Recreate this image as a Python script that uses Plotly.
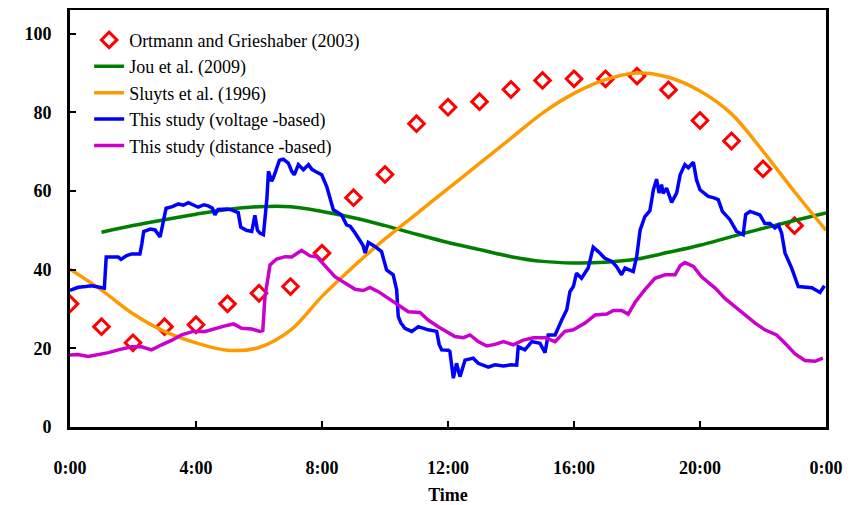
import plotly.graph_objects as go

# ---- data ----
ortmann_hours = list(range(0, 24))
ortmann_vals = [31.3, 25.5, 21.4, 25.5, 26.0, 31.3, 34.0, 35.7, 44.2, 58.3, 64.2, 77.1,
                81.3, 82.7, 85.8, 88.1, 88.5, 88.5, 89.2, 85.7, 77.9, 72.7, 65.6, 51.2]

jou_hours = list(range(1, 25))
jou_vals = [49.5, 51.2, 52.7, 54.1, 55.3, 56.0, 56.0, 54.8, 53.2, 51.2, 49.0, 46.9,
            45.1, 43.3, 42.1, 41.7, 41.9, 42.7, 44.4, 46.2, 48.4, 50.5, 52.5, 54.4]

sluyts_hours = list(range(0, 25))
sluyts_vals = [40.1, 34.8, 28.8, 24.3, 21.4, 19.5, 20.2, 24.6, 33.2, 40.8, 47.8, 54.2,
               60.6, 67.0, 73.4, 79.8, 84.8, 88.3, 90.0, 88.9, 85.4, 79.6, 70.1, 59.8, 50.0]

volt_hours = [0.00, 0.26, 0.50, 0.69, 0.90, 1.05, 1.09, 1.15, 1.53, 1.62, 1.80, 1.96, 2.22, 2.28,
              2.34, 2.55, 2.70, 2.86, 2.97, 3.05, 3.25, 3.44, 3.60, 3.76, 3.95, 4.07, 4.25, 4.39,
              4.52, 4.60, 4.70, 4.81, 5.00, 5.13, 5.34, 5.42, 5.60, 5.77, 5.87, 5.95, 6.03, 6.14,
              6.25, 6.30, 6.40, 6.45, 6.55, 6.65, 6.77, 6.93, 7.04, 7.12, 7.25, 7.41, 7.57, 7.68,
              7.78, 7.90, 7.99, 8.15, 8.25, 8.36, 8.50, 8.62, 8.78, 8.90, 9.05, 9.21, 9.30, 9.37,
              9.47, 9.68, 9.89, 10.05, 10.26, 10.37, 10.42, 10.50, 10.63, 10.85, 11.06, 11.37,
              11.64, 11.72, 11.80, 12.01, 12.06, 12.17, 12.27, 12.38, 12.54, 12.80, 12.96, 13.28,
              13.49, 13.76, 14.00, 14.18, 14.23, 14.44, 14.66, 14.92, 15.08, 15.18, 15.40, 15.61,
              15.77, 15.87, 15.98, 16.08, 16.24, 16.45, 16.61, 16.77, 16.98, 17.20, 17.35, 17.51,
              17.62, 17.88, 17.99, 18.10, 18.25, 18.41, 18.52, 18.62, 18.70, 18.78, 18.83, 18.94,
              19.10, 19.26, 19.37, 19.52, 19.63, 19.79, 19.89, 20.00, 20.26, 20.42, 20.58, 20.71,
              20.95, 21.16, 21.37, 21.45, 21.59, 21.90, 22.06, 22.22, 22.38, 22.49, 22.59, 22.70,
              22.91, 23.12, 23.33, 23.55, 23.81, 23.95]
volt_vals = [34.7, 35.5, 35.7, 35.9, 35.6, 35.5, 35.3, 43.2, 43.2, 42.6, 43.6, 44.0, 44.0, 46.5,
             49.7, 50.3, 50.1, 48.3, 52.5, 55.6, 56.0, 56.7, 56.4, 57.0, 56.3, 55.9, 56.5, 56.2,
             55.6, 53.9, 55.3, 55.4, 55.4, 55.2, 54.5, 50.8, 50.0, 49.7, 53.8, 50.0, 49.3, 48.9,
             58.0, 65.0, 62.5, 63.2, 65.4, 67.8, 68.1, 67.1, 65.0, 64.1, 66.7, 65.4, 66.7, 65.5,
             65.0, 64.6, 64.1, 61.1, 58.0, 55.2, 54.5, 53.9, 51.4, 51.0, 49.3, 47.2, 46.2, 44.2,
             46.9, 45.9, 44.6, 39.9, 38.7, 34.9, 28.1, 26.5, 25.1, 24.3, 25.5, 24.7,
             24.3, 21.0, 19.6, 19.5, 19.2, 12.4, 16.2, 12.8, 17.0, 17.5, 16.2, 15.2,
             15.8, 15.5, 15.8, 15.7, 20.4, 19.6, 21.7, 21.3, 18.9, 23.4, 23.4, 27.2,
             29.8, 34.4, 35.7, 39.1, 37.8, 40.4, 45.7, 44.6, 42.9, 42.1, 40.8, 38.7,
             40.4, 39.5, 43.3, 50.1, 53.5, 55.0, 60.3, 63.0, 59.5, 61.6, 59.4, 60.7,
             57.1, 59.5, 64.1, 66.7, 65.9, 67.3, 62.8, 60.3, 58.6, 58.3, 57.8, 54.8,
             52.7, 49.7, 48.9, 54.0, 54.8, 53.9, 51.7, 51.7, 50.6, 51.3, 49.3, 44.2,
             40.4, 35.7, 35.6, 35.4, 34.2, 35.9]

dist_hours = [0.00, 0.25, 0.58, 0.90, 1.22, 1.53, 1.96, 2.27, 2.59, 2.91, 3.22, 3.54, 3.91, 4.29,
              4.60, 4.92, 5.19, 5.45, 5.77, 6.03, 6.12, 6.19, 6.35, 6.56, 6.83, 7.04, 7.35, 7.62,
              7.83, 8.10, 8.41, 8.73, 9.05, 9.31, 9.52, 9.79, 10.11, 10.42, 10.74, 11.11, 11.37,
              11.69, 11.95, 12.22, 12.49, 12.70, 12.96, 13.23, 13.49, 13.76, 14.07, 14.39, 14.71,
              15.08, 15.40, 15.71, 15.98, 16.35, 16.67, 17.04, 17.25, 17.51, 17.72, 17.94, 18.25,
              18.57, 18.89, 19.21, 19.37, 19.52, 19.79, 20.05, 20.48, 20.79, 21.11, 21.43, 21.75,
              22.06, 22.43, 22.70, 23.02, 23.33, 23.65, 23.90]
dist_vals = [18.3, 18.4, 17.9, 18.3, 18.9, 19.6, 20.4, 20.4, 19.6, 20.9, 22.0, 23.4, 24.3, 24.3,
             25.1, 25.7, 26.2, 25.1, 24.9, 24.3, 24.5, 33.2, 41.2, 42.7, 43.3, 43.2, 44.9, 43.5,
             43.3, 40.8, 38.2, 36.6, 35.0, 34.7, 35.5, 34.4, 32.7, 30.8, 29.3, 29.1, 27.2,
             25.5, 24.3, 23.0, 22.7, 23.4, 21.7, 20.6, 21.0, 21.7, 20.9, 22.1, 22.7,
             22.7, 21.7, 24.3, 24.7, 26.4, 28.5, 28.7, 29.6, 29.6, 28.7, 31.7, 34.9,
             37.8, 38.7, 38.7, 41.0, 41.8, 40.8, 38.2, 35.3, 32.7, 30.6, 28.5, 26.4,
             24.7, 23.4, 21.3, 18.6, 16.9, 16.7, 17.5]

x_tickvals = [0, 4, 8, 12, 16, 20, 24]
x_ticktext = ["0:00", "4:00", "8:00", "12:00", "16:00", "20:00", "0:00"]
y_tickvals = [0, 20, 40, 60, 80, 100]

SERIF = "Liberation Serif"

fig = go.Figure()
fig.add_trace(go.Scatter(x=ortmann_hours, y=ortmann_vals, mode="markers",
                         name="Ortmann and Grieshaber (2003)",
                         marker=dict(symbol="diamond-open", size=12, color="#FF0000",
                                     line=dict(width=3, color="#FF0000"))))
fig.add_trace(go.Scatter(x=jou_hours, y=jou_vals, mode="lines", name="Jou et al. (2009)",
                         line=dict(color="#008000", width=3.5, shape="spline")))
fig.add_trace(go.Scatter(x=sluyts_hours, y=sluyts_vals, mode="lines", name="Sluyts et al. (1996)",
                         line=dict(color="#FF9900", width=3.5, shape="spline")))
fig.add_trace(go.Scatter(x=volt_hours, y=volt_vals, mode="lines",
                         name="This study (voltage -based)",
                         line=dict(color="#0000FF", width=3.5)))
fig.add_trace(go.Scatter(x=dist_hours, y=dist_vals, mode="lines",
                         name="This study (distance -based)",
                         line=dict(color="#CC00CC", width=3.5)))

fig.update_layout(
    width=848, height=497,
    margin=dict(l=62, r=30, t=2, b=78, autoexpand=False),
    paper_bgcolor="white", plot_bgcolor="white",
    font=dict(family=SERIF, color="black"),
    showlegend=True,
    legend=dict(x=0.0253, y=0.972, xanchor="left", yanchor="top",
                bgcolor="rgba(0,0,0,0)", font=dict(family=SERIF, size=18, color="black"),
                tracegroupgap=0),
    xaxis=dict(range=[0, 24], tickvals=x_tickvals, ticktext=x_ticktext,
               ticks="inside", ticklen=6, tickwidth=2, tickcolor="black",
               showline=True, linecolor="black", linewidth=3, mirror=True,
               showgrid=False, zeroline=False, automargin=False,
               tickfont=dict(family=SERIF, size=18, color="black", weight="bold"),
               ticklabelstandoff=22,
               title=dict(text="Time", font=dict(family=SERIF, size=18, color="black", weight="bold"),
                          standoff=12)),
    yaxis=dict(range=[0, 106], tickvals=y_tickvals,
               ticks="inside", ticklen=6, tickwidth=2, tickcolor="black",
               showline=True, linecolor="black", linewidth=3, mirror=True,
               showgrid=False, zeroline=False, automargin=False,
               tickfont=dict(family=SERIF, size=18, color="black", weight="bold"),
               ticklabelstandoff=12),
)

fig.write_html("out.html")
